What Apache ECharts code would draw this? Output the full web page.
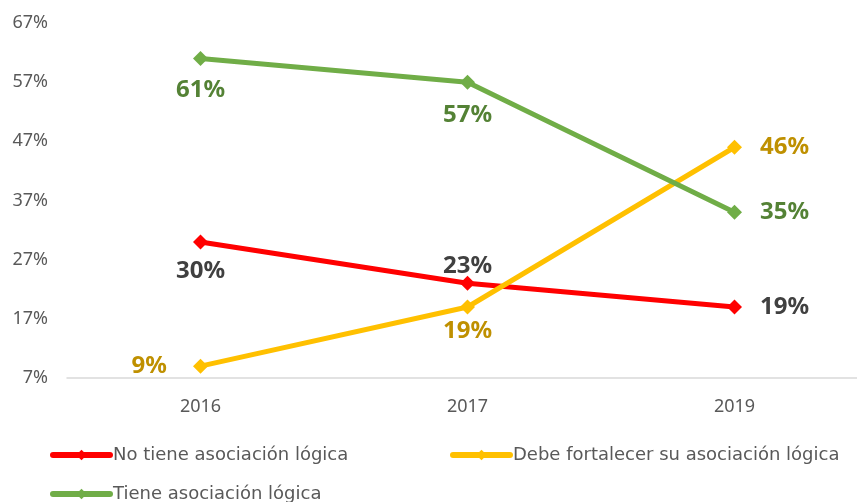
<!DOCTYPE html>
<html>
<head>
<meta charset="utf-8">
<script src="https://cdn.jsdelivr.net/npm/echarts@6/dist/echarts.min.js"></script>
<style>
  html, body { margin: 0; padding: 0; background: #fff; }
  #chart { width: 857px; height: 502px; }
</style>
</head>
<body>
<div id="chart"></div>
<script>
var years = ['2016', '2017', '2019']
var noTiene = [30, 23, 19]
var debeFortalecer = [9, 19, 46]
var tiene = [61, 57, 35]
var yTicks = { min: 7, max: 67, interval: 10 }

var font = 'Century Gothic, Noto Sans, sans-serif'
var myChart = echarts.init(document.getElementById('chart'))

// etiqueta de cada punto
function pt(v, color, pos, dist) {
  return {
    value: v,
    label: {
      show: true,
      position: pos,
      distance: dist,
      color: color,
      fontSize: 24,
      fontWeight: 'bold',
      fontFamily: font,
      formatter: '{c}%',
    },
  }
}

var option = {
  animation: false,
  grid: { left: 67, width: 801, top: 23, bottom: 124, outerBoundsMode: 'none' },
  xAxis: {
    type: 'category',
    data: years,
    axisLine: { lineStyle: { color: '#d9d9d9', width: 1.5 } },
    axisTick: { show: false },
    axisLabel: { color: '#595959', fontSize: 18, fontFamily: font, margin: 20 },
  },
  yAxis: {
    type: 'value',
    min: yTicks.min,
    max: yTicks.max,
    interval: yTicks.interval,
    splitLine: { show: false },
    axisLine: { show: false },
    axisTick: { show: false },
    axisLabel: { color: '#595959', fontSize: 18, fontFamily: font, margin: 19, formatter: '{value}%' },
  },
  legend: [
    { data: ['No tiene asociación lógica'], left: 50, top: 446 },
    { data: ['Debe fortalecer su asociación lógica'], left: 450, top: 446 },
    { data: ['Tiene asociación lógica'], left: 50, top: 485 },
  ].map(function (l) {
    l.padding = 0
    l.itemWidth = 57
    l.itemHeight = 13
    l.itemGap = 2
    l.lineStyle = { width: 6, cap: 'round' }
    l.textStyle = { color: '#595959', fontSize: 18, fontFamily: 'DejaVu Sans, sans-serif', padding: [0, 0, 0, -2] }
    return l
  }),
  series: [
    {
      name: 'No tiene asociación lógica',
      type: 'line',
      data: [
        pt(noTiene[0], '#404040', 'bottom', 10),
        pt(noTiene[1], '#404040', 'top', -2),
        pt(noTiene[2], '#404040', 'right', 18),
      ],
      symbol: 'diamond',
      symbolSize: 15,
      lineStyle: { color: '#ff0000', width: 5 },
      itemStyle: { color: '#ff0000' },
    },
    {
      name: 'Debe fortalecer su asociación lógica',
      type: 'line',
      data: [
        pt(debeFortalecer[0], '#bf9000', 'left', 26),
        pt(debeFortalecer[1], '#bf9000', 'bottom', 5),
        pt(debeFortalecer[2], '#bf9000', 'right', 18),
      ],
      symbol: 'diamond',
      symbolSize: 15,
      lineStyle: { color: '#ffc000', width: 5 },
      itemStyle: { color: '#ffc000' },
    },
    {
      name: 'Tiene asociación lógica',
      type: 'line',
      data: [
        pt(tiene[0], '#548235', 'bottom', 12),
        pt(tiene[1], '#548235', 'bottom', 13),
        pt(tiene[2], '#548235', 'right', 18),
      ],
      symbol: 'diamond',
      symbolSize: 15,
      lineStyle: { color: '#70ad47', width: 5 },
      itemStyle: { color: '#70ad47' },
    },
  ],
}

myChart.setOption(option)
</script>
</body>
</html>
